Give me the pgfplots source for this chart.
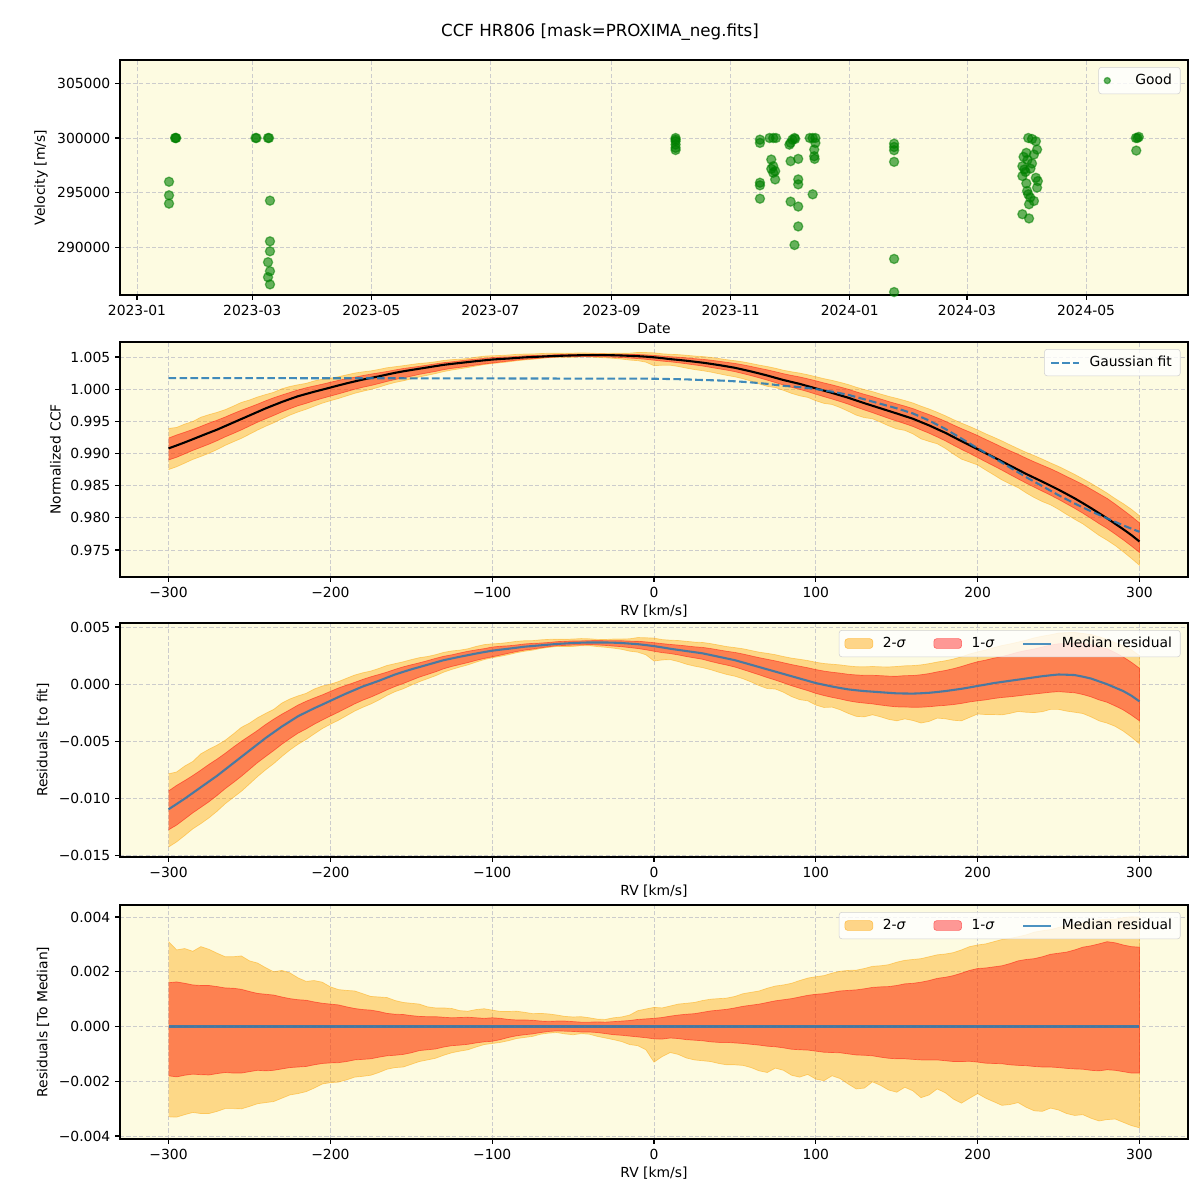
\documentclass[border=0pt]{standalone}
\usepackage{pgfplots}
\pgfplotsset{compat=1.18}
\usepackage{pgfplotstable}
\usepackage{fontspec}
\setmainfont{DejaVu Sans}

\definecolor{bgc}{HTML}{FDFBE1}
\definecolor{tabblue}{HTML}{1F77B4}
\definecolor{mgreen}{HTML}{008000}
\definecolor{morange}{HTML}{FFA500}
\definecolor{mred}{HTML}{FF0000}

\pgfplotstableread{
rv fit res u1 l1 u2 l2
-300 1.00172 -0.01093 0.00160 -0.00180 0.00310 -0.00330
-295 1.00172 -0.01047 0.00163 -0.00184 0.00280 -0.00331
-290 1.00172 -0.01000 0.00158 -0.00178 0.00285 -0.00322
-285 1.00172 -0.00950 0.00152 -0.00174 0.00275 -0.00314
-280 1.00172 -0.00900 0.00150 -0.00176 0.00292 -0.00318
-275 1.00172 -0.00850 0.00150 -0.00177 0.00282 -0.00318
-270 1.00171 -0.00800 0.00146 -0.00172 0.00268 -0.00310
-265 1.00171 -0.00745 0.00141 -0.00168 0.00255 -0.00300
-260 1.00171 -0.00690 0.00140 -0.00170 0.00255 -0.00300
-255 1.00171 -0.00635 0.00136 -0.00170 0.00258 -0.00301
-250 1.00171 -0.00580 0.00128 -0.00165 0.00240 -0.00292
-245 1.00171 -0.00525 0.00121 -0.00160 0.00232 -0.00282
-240 1.00171 -0.00470 0.00118 -0.00162 0.00215 -0.00278
-235 1.00171 -0.00420 0.00115 -0.00160 0.00200 -0.00274
-230 1.00171 -0.00370 0.00108 -0.00155 0.00205 -0.00262
-225 1.00171 -0.00325 0.00102 -0.00150 0.00196 -0.00250
-220 1.00170 -0.00280 0.00098 -0.00148 0.00178 -0.00245
-215 1.00170 -0.00245 0.00096 -0.00146 0.00165 -0.00238
-210 1.00170 -0.00210 0.00090 -0.00140 0.00168 -0.00225
-205 1.00170 -0.00178 0.00085 -0.00135 0.00162 -0.00210
-200 1.00170 -0.00145 0.00082 -0.00133 0.00145 -0.00205
-195 1.00170 -0.00112 0.00079 -0.00132 0.00135 -0.00203
-190 1.00170 -0.00080 0.00072 -0.00128 0.00132 -0.00195
-185 1.00170 -0.00050 0.00066 -0.00122 0.00130 -0.00185
-180 1.00169 -0.00020 0.00062 -0.00120 0.00120 -0.00182
-175 1.00169 0.00005 0.00060 -0.00118 0.00110 -0.00178
-170 1.00169 0.00030 0.00055 -0.00112 0.00108 -0.00168
-165 1.00169 0.00058 0.00048 -0.00107 0.00106 -0.00156
-160 1.00169 0.00085 0.00045 -0.00105 0.00095 -0.00150
-155 1.00169 0.00108 0.00044 -0.00102 0.00088 -0.00148
-150 1.00168 0.00130 0.00040 -0.00096 0.00085 -0.00138
-145 1.00168 0.00150 0.00037 -0.00088 0.00082 -0.00128
-140 1.00168 0.00170 0.00036 -0.00085 0.00072 -0.00122
-135 1.00168 0.00190 0.00036 -0.00082 0.00068 -0.00116
-130 1.00168 0.00210 0.00034 -0.00075 0.00068 -0.00105
-125 1.00168 0.00225 0.00032 -0.00070 0.00066 -0.00096
-120 1.00167 0.00240 0.00033 -0.00068 0.00058 -0.00090
-115 1.00167 0.00254 0.00034 -0.00065 0.00056 -0.00085
-110 1.00167 0.00268 0.00032 -0.00060 0.00062 -0.00075
-105 1.00167 0.00281 0.00030 -0.00056 0.00065 -0.00066
-100 1.00167 0.00293 0.00032 -0.00054 0.00060 -0.00062
-95 1.00167 0.00302 0.00030 -0.00048 0.00055 -0.00058
-90 1.00166 0.00310 0.00026 -0.00040 0.00055 -0.00052
-85 1.00166 0.00319 0.00024 -0.00034 0.00056 -0.00044
-80 1.00166 0.00328 0.00024 -0.00030 0.00052 -0.00040
-75 1.00166 0.00334 0.00023 -0.00027 0.00047 -0.00036
-70 1.00166 0.00340 0.00020 -0.00022 0.00048 -0.00028
-65 1.00166 0.00346 0.00019 -0.00018 0.00046 -0.00024
-60 1.00165 0.00352 0.00020 -0.00016 0.00042 -0.00022
-55 1.00165 0.00356 0.00020 -0.00017 0.00037 -0.00027
-50 1.00165 0.00360 0.00018 -0.00018 0.00035 -0.00030
-45 1.00165 0.00363 0.00016 -0.00020 0.00036 -0.00026
-40 1.00164 0.00365 0.00016 -0.00020 0.00032 -0.00028
-35 1.00164 0.00365 0.00017 -0.00022 0.00027 -0.00036
-30 1.00164 0.00365 0.00016 -0.00026 0.00026 -0.00042
-25 1.00164 0.00363 0.00018 -0.00030 0.00032 -0.00048
-20 1.00163 0.00360 0.00020 -0.00032 0.00035 -0.00055
-15 1.00163 0.00355 0.00022 -0.00035 0.00042 -0.00066
-10 1.00163 0.00350 0.00026 -0.00038 0.00058 -0.00070
-5 1.00163 0.00342 0.00028 -0.00041 0.00064 -0.00085
0 1.00162 0.00333 0.00030 -0.00045 0.00070 -0.00130
5 1.00160 0.00322 0.00033 -0.00046 0.00068 -0.00110
10 1.00157 0.00310 0.00038 -0.00042 0.00075 -0.00095
15 1.00155 0.00300 0.00042 -0.00044 0.00082 -0.00102
20 1.00152 0.00290 0.00045 -0.00048 0.00085 -0.00115
25 1.00147 0.00280 0.00047 -0.00050 0.00088 -0.00122
30 1.00142 0.00270 0.00052 -0.00052 0.00095 -0.00125
35 1.00139 0.00255 0.00057 -0.00056 0.00100 -0.00128
40 1.00135 0.00240 0.00060 -0.00058 0.00102 -0.00135
45 1.00129 0.00225 0.00063 -0.00058 0.00104 -0.00140
50 1.00122 0.00210 0.00068 -0.00060 0.00110 -0.00140
55 1.00114 0.00190 0.00074 -0.00062 0.00120 -0.00142
60 1.00105 0.00170 0.00078 -0.00065 0.00125 -0.00150
65 1.00094 0.00150 0.00082 -0.00068 0.00130 -0.00162
70 1.00082 0.00130 0.00088 -0.00072 0.00140 -0.00168
75 1.00067 0.00110 0.00094 -0.00074 0.00148 -0.00152
80 1.00052 0.00090 0.00098 -0.00078 0.00152 -0.00160
85 1.00042 0.00070 0.00102 -0.00083 0.00158 -0.00178
90 1.00032 0.00050 0.00108 -0.00085 0.00168 -0.00185
95 1.00017 0.00030 0.00114 -0.00086 0.00177 -0.00175
100 1.00002 0.00010 0.00118 -0.00090 0.00182 -0.00192
105 0.99982 -0.00005 0.00120 -0.00094 0.00186 -0.00198
110 0.99962 -0.00020 0.00125 -0.00095 0.00195 -0.00180
115 0.99937 -0.00033 0.00130 -0.00096 0.00202 -0.00190
120 0.99912 -0.00045 0.00132 -0.00100 0.00205 -0.00210
125 0.99877 -0.00053 0.00134 -0.00104 0.00206 -0.00228
130 0.99842 -0.00060 0.00138 -0.00105 0.00212 -0.00225
135 0.99807 -0.00065 0.00143 -0.00107 0.00220 -0.00202
140 0.99772 -0.00070 0.00145 -0.00112 0.00222 -0.00215
145 0.99737 -0.00075 0.00146 -0.00116 0.00226 -0.00232
150 0.99702 -0.00080 0.00150 -0.00118 0.00235 -0.00240
155 0.99662 -0.00081 0.00156 -0.00118 0.00242 -0.00222
160 0.99622 -0.00082 0.00158 -0.00120 0.00245 -0.00235
165 0.99567 -0.00079 0.00162 -0.00122 0.00248 -0.00260
170 0.99512 -0.00075 0.00168 -0.00122 0.00255 -0.00250
175 0.99447 -0.00068 0.00176 -0.00122 0.00262 -0.00228
180 0.99382 -0.00060 0.00180 -0.00125 0.00265 -0.00242
185 0.99307 -0.00050 0.00186 -0.00128 0.00270 -0.00265
190 0.99232 -0.00040 0.00195 -0.00128 0.00280 -0.00280
195 0.99157 -0.00028 0.00205 -0.00127 0.00292 -0.00262
200 0.99082 -0.00015 0.00212 -0.00130 0.00298 -0.00245
205 0.99007 -0.00003 0.00214 -0.00134 0.00302 -0.00262
210 0.98932 0.00010 0.00218 -0.00135 0.00310 -0.00275
215 0.98857 0.00020 0.00222 -0.00136 0.00318 -0.00288
220 0.98782 0.00030 0.00230 -0.00140 0.00322 -0.00285
225 0.98707 0.00040 0.00240 -0.00142 0.00328 -0.00278
230 0.98632 0.00050 0.00245 -0.00143 0.00335 -0.00295
235 0.98562 0.00060 0.00248 -0.00146 0.00345 -0.00308
240 0.98492 0.00070 0.00255 -0.00148 0.00350 -0.00310
245 0.98422 0.00078 0.00264 -0.00148 0.00354 -0.00298
250 0.98352 0.00085 0.00268 -0.00150 0.00362 -0.00305
255 0.98287 0.00083 0.00272 -0.00153 0.00368 -0.00318
260 0.98222 0.00080 0.00280 -0.00155 0.00372 -0.00325
265 0.98162 0.00066 0.00290 -0.00156 0.00378 -0.00322
270 0.98102 0.00050 0.00295 -0.00160 0.00385 -0.00335
275 0.98047 0.00025 0.00302 -0.00162 0.00390 -0.00345
280 0.97992 0.00000 0.00310 -0.00158 0.00392 -0.00340
285 0.97937 -0.00030 0.00306 -0.00160 0.00392 -0.00338
290 0.97882 -0.00060 0.00298 -0.00165 0.00398 -0.00350
295 0.97832 -0.00100 0.00292 -0.00170 0.00401 -0.00362
300 0.97782 -0.00150 0.00290 -0.00170 0.00400 -0.00370
}\ccf
% forward rows followed by the same rows in reverse: a closed band outline
\pgfplotstablesort[sort key=rv, sort cmp=float >]{\ccfrev}{\ccf}
\pgfplotstablesort[sort key=rv, sort cmp=float <]{\ccfloop}{\ccf}
\pgfplotstablevertcat{\ccfloop}{\ccfrev}

\pgfplotstableread{
day v
19.5 300000
19.8 300000
20.1 300000
16.4 296000
16.4 294760
16.4 294000
60.7 300000
61.2 300000
67.1 300000
67.6 300000
68.1 294270
68.1 290550
68.1 289640
67.1 288640
68.1 287820
67.1 287270
68.1 286610
275.8 300000
275.8 299850
275.8 299700
275.8 299400
275.8 299100
275.8 298900
319.0 299850
319.0 299550
319.0 295910
319.0 295670
319.0 294450
323.9 300000
325.8 300000
327.2 300000
324.8 298030
324.8 297180
325.8 297420
325.8 296820
326.8 296970
326.8 296210
336.7 300000
337.0 299910
335.6 299850
334.7 299550
334.1 299390
334.7 297880
334.7 294180
336.7 290210
338.6 298090
338.6 296210
338.6 295760
338.6 293730
338.6 291910
344.5 300000
346.0 300000
347.4 300000
347.4 299550
346.8 298940
346.8 298330
347.0 298090
346.0 294850
387.7 299480
387.7 299180
387.7 298880
387.7 297820
387.7 288940
387.7 285910
456.4 300000
458.3 299910
460.3 299700
460.9 298940
455.4 298640
454.0 298270
459.3 298490
458.3 297670
453.4 297420
454.4 297120
453.4 296520
460.3 296360
461.3 296060
455.4 295850
460.9 295460
455.8 295150
456.4 294850
457.4 294550
459.3 294240
456.8 293940
453.4 293030
456.8 292640
455.0 296900
457.5 297200
456.0 298000
511.5 300000
512.3 300000
513.0 300100
511.7 298850
}\vel

\pgfplotsset{
  mystyle/.style={
    scale only axis, width=768.96pt, anchor=north west,
    axis background/.style={fill=bgc},
    grid=major, grid style={color=black!20, dash pattern=on 3pt off 1.6pt, line width=0.6pt},
    tick align=outside, major tick length=3.5pt, tick style={black, line width=0.8pt},
    axis line style={line width=0.8pt},
    xtick pos=bottom, ytick pos=left,
    scaled ticks=false,
    ticklabel style={font=\fontsize{10}{12}\selectfont},
    label style={font=\fontsize{10}{12}\selectfont},
    xlabel style={yshift=1pt},
    legend style={font=\fontsize{10}{12}\selectfont, draw=black!18, fill=white, fill opacity=0.8, text opacity=1,
      rounded corners=2pt, at={(0.993,0.97)}, anchor=north east, inner xsep=4pt, inner ysep=3pt,
      /tikz/every odd column/.append style={column sep=5pt}},
    legend cell align=left,
  },
  rvx/.style={xmin=-330, xmax=330, xtick={-300,-200,-100,0,100,200,300},
    xticklabels={−300,−200,−100,0,100,200,300}, xlabel={RV [km/s]}},
  linelegend/.style={legend image code/.code={\draw[##1] (0pt,0pt) -- (20pt,0pt);}},
  patchlegend/.style={legend image code/.code={\draw[##1] (0pt,-3.5pt) rectangle (20pt,3.5pt);}},
  band2/.style={fill=morange, fill opacity=0.4, draw=morange, draw opacity=0.45, line width=0.5pt, forget plot},
  band1/.style={fill=mred, fill opacity=0.4, draw=mred, draw opacity=0.45, line width=0.5pt, forget plot},
  threelegend/.style={legend columns=3,
    legend style={/tikz/every even column/.append style={column sep=18pt}}},
}

\begin{document}
\begin{tikzpicture}
\useasboundingbox (0,0) rectangle (864pt,-864pt);
\node[font=\fontsize{12}{14}\selectfont] at (432pt,-23.04pt) {CCF HR806 [mask=PROXIMA\_neg.fits]};

% Panel 1
\begin{axis}[mystyle, at={(86.4pt,-43.2pt)}, height=169.2pt,
  xmin=-8.7, xmax=538.2, ymin=285641, ymax=307134,
  xtick={0,59,120,181,243,304,365,425,486},
  xticklabels={2023-01,2023-03,2023-05,2023-07,2023-09,2023-11,2024-01,2024-03,2024-05},
  ytick={290000,295000,300000,305000},
  yticklabels={290000,295000,300000,305000},
  xlabel={Date}, ylabel={Velocity [m/s]},
  legend image post style={mark size=2.2pt},
  legend style={/tikz/every odd column/.append style={column sep=16pt}}]
\addplot[only marks, mark=*, mark size=3.3pt,
  mark options={fill=mgreen, draw=mgreen, fill opacity=0.6, draw opacity=0.55, line width=0.9pt}]
  table[x=day, y=v] {\vel};
\addlegendentry{Good}
\end{axis}

% Panel 2
\begin{axis}[mystyle, rvx, at={(86.4pt,-246.24pt)}, height=169.2pt,
  ymin=0.9708, ymax=1.00733,
  ytick={0.975,0.98,0.985,0.99,0.995,1,1.005},
  yticklabels={0.975,0.980,0.985,0.990,0.995,1.000,1.005},
  ylabel={Normalized CCF}, linelegend]
\addplot[band2] table[x=rv, y expr={\thisrow{fit}+\thisrow{res}+\thisrow{u2}+(\coordindex>120)*(\thisrow{l2}-\thisrow{u2})}] {\ccfloop};
\addplot[band1] table[x=rv, y expr={\thisrow{fit}+\thisrow{res}+\thisrow{u1}+(\coordindex>120)*(\thisrow{l1}-\thisrow{u1})}] {\ccfloop};
\addplot[black, line width=1.5pt, forget plot] table[x=rv, y expr=\thisrow{fit}+\thisrow{res}] {\ccf};
\addplot[tabblue, opacity=0.85, line width=1.5pt, dash pattern=on 5.5pt off 2.4pt] table[x=rv, y=fit] {\ccf};
\addlegendentry{Gaussian fit}
\end{axis}

% Panel 3
\begin{axis}[mystyle, rvx, threelegend, at={(86.4pt,-448.56pt)}, height=168.48pt,
  ymin=-0.0151, ymax=0.00535,
  ytick={-0.015,-0.01,-0.005,0,0.005},
  yticklabels={−0.015,−0.010,−0.005,0.000,0.005},
  ylabel={Residuals [to fit]}]
\addlegendimage{patchlegend, fill=morange, fill opacity=0.45, draw=morange, draw opacity=0.6}
\addlegendentry{2-\textit{σ}}
\addlegendimage{patchlegend, fill=mred, fill opacity=0.4, draw=mred, draw opacity=0.5}
\addlegendentry{1-\textit{σ}}
\addplot[band2] table[x=rv, y expr={\thisrow{res}+\thisrow{u2}+(\coordindex>120)*(\thisrow{l2}-\thisrow{u2})}] {\ccfloop};
\addplot[band1] table[x=rv, y expr={\thisrow{res}+\thisrow{u1}+(\coordindex>120)*(\thisrow{l1}-\thisrow{u1})}] {\ccfloop};
\addplot[tabblue, opacity=0.8, line width=1.5pt, linelegend] table[x=rv, y=res] {\ccf};
\addlegendentry{Median residual}
\end{axis}

% Panel 4
\begin{axis}[mystyle, rvx, threelegend, at={(86.4pt,-651.6pt)}, height=168.48pt,
  ymin=-0.00411, ymax=0.00444,
  ytick={-0.004,-0.002,0,0.002,0.004},
  yticklabels={−0.004,−0.002,0.000,0.002,0.004},
  ylabel={Residuals [To Median]}]
\addlegendimage{patchlegend, fill=morange, fill opacity=0.45, draw=morange, draw opacity=0.6}
\addlegendentry{2-\textit{σ}}
\addlegendimage{patchlegend, fill=mred, fill opacity=0.4, draw=mred, draw opacity=0.5}
\addlegendentry{1-\textit{σ}}
\addplot[band2] table[x=rv, y expr={\thisrow{u2}+(\coordindex>120)*(\thisrow{l2}-\thisrow{u2})}] {\ccfloop};
\addplot[band1] table[x=rv, y expr={\thisrow{u1}+(\coordindex>120)*(\thisrow{l1}-\thisrow{u1})}] {\ccfloop};
\addplot[tabblue, opacity=0.8, line width=1.5pt, linelegend] coordinates {(-300,0) (300,0)};
\addlegendentry{Median residual}
\end{axis}
\end{tikzpicture}
\end{document}
